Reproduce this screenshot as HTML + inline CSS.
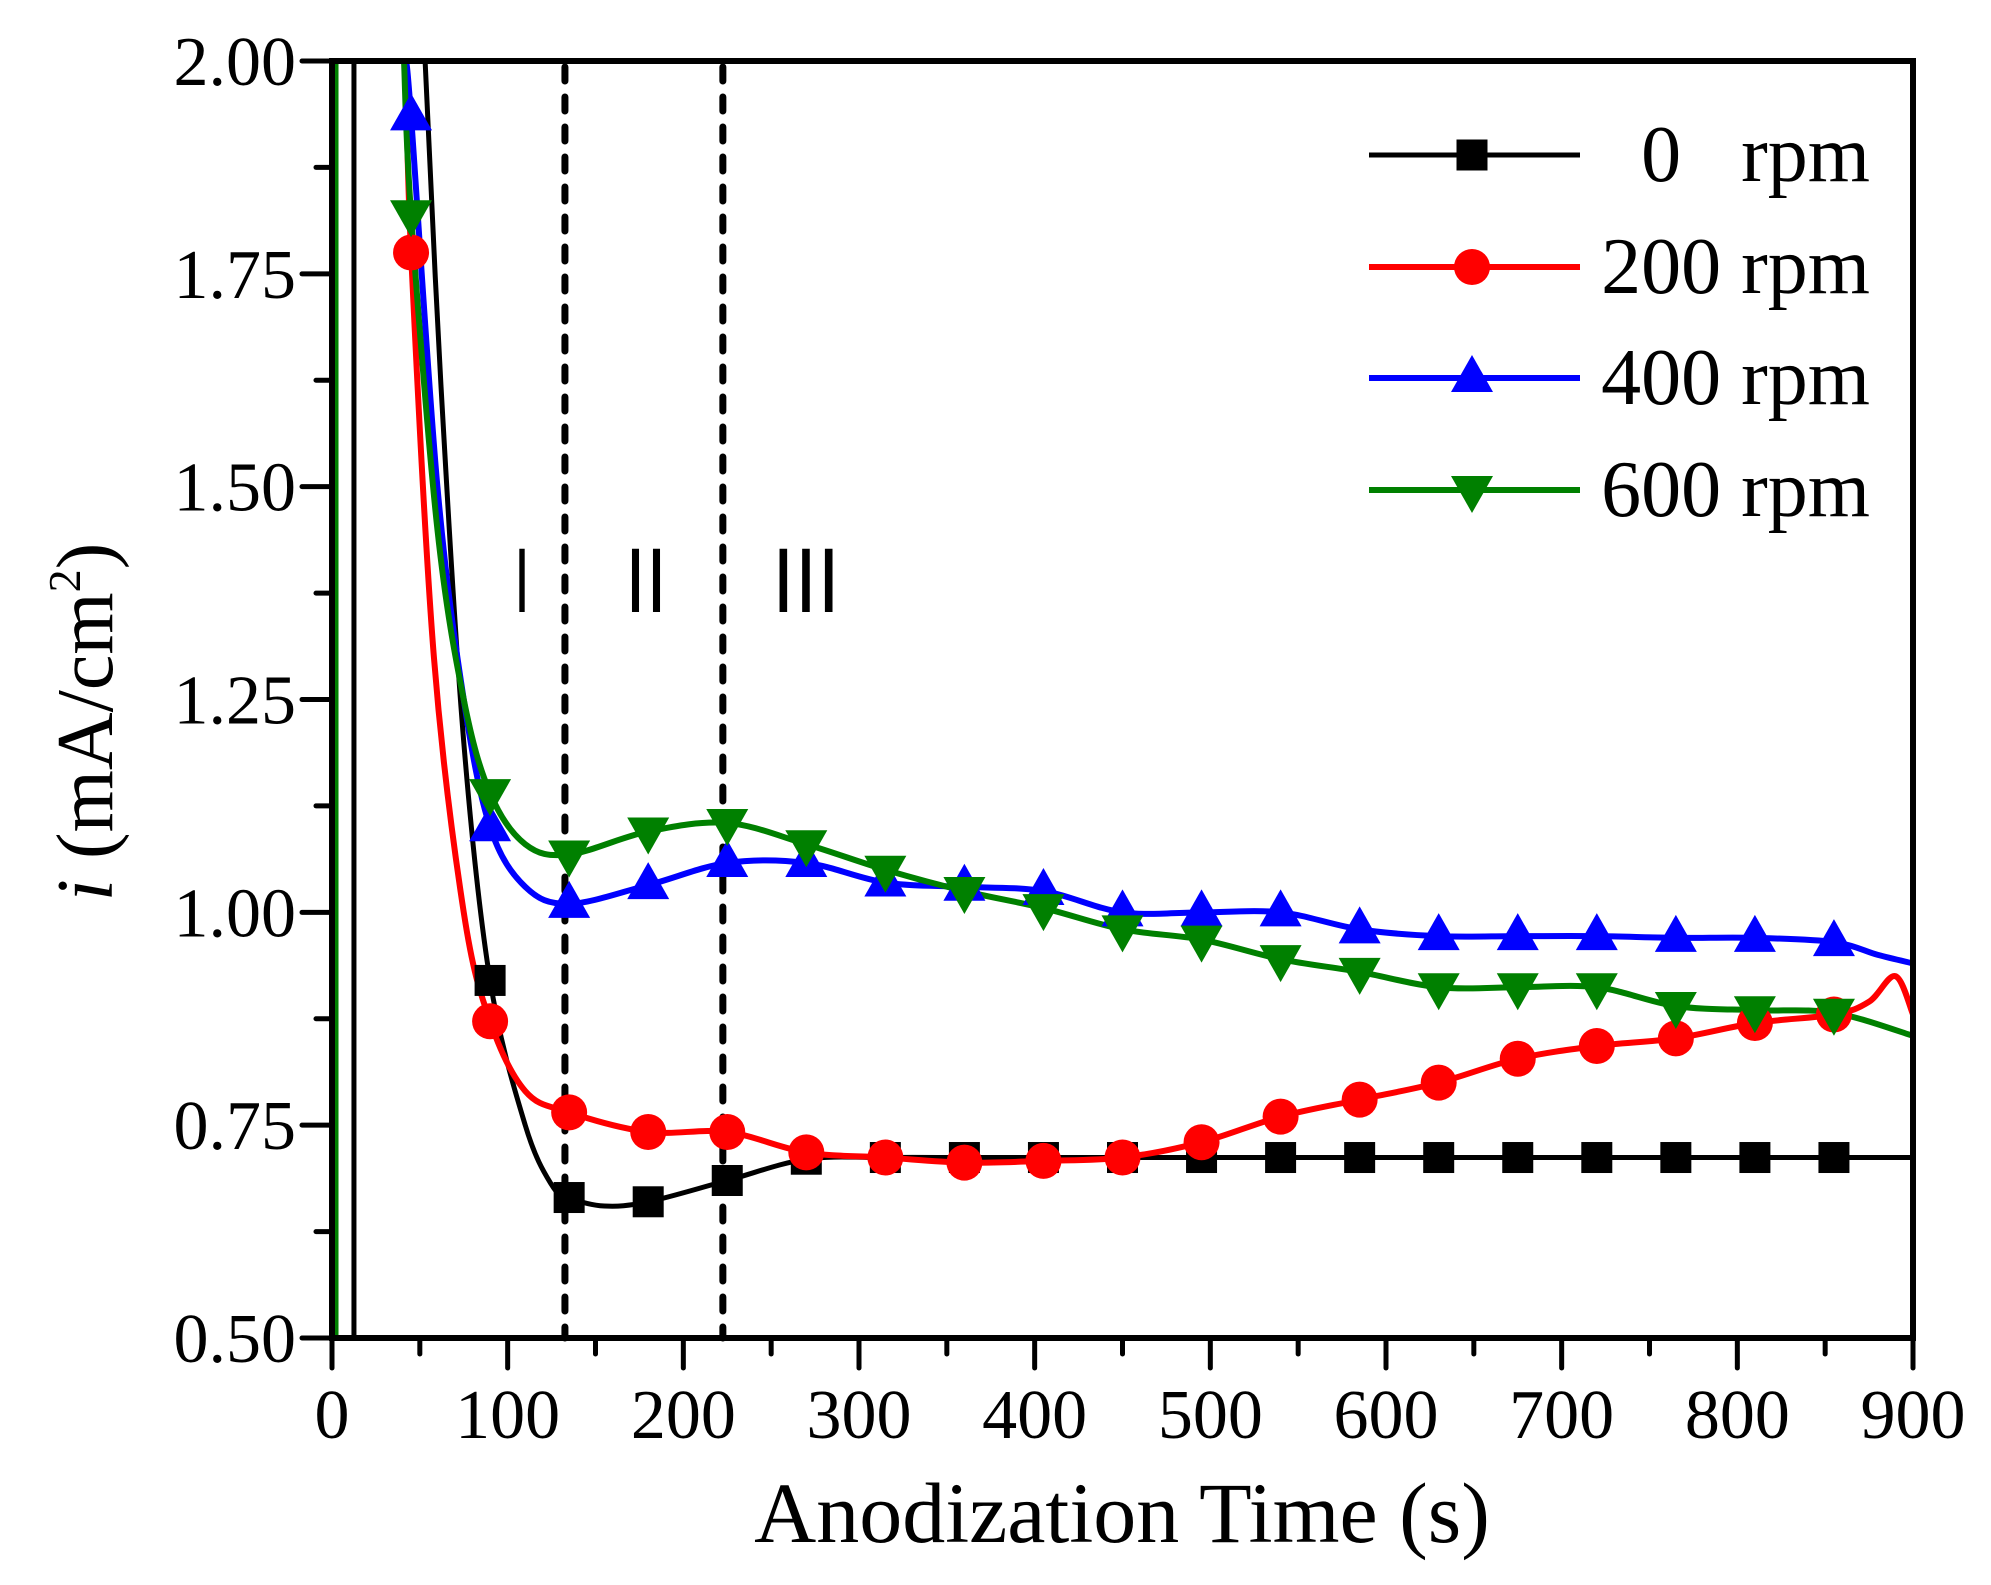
<!DOCTYPE html>
<html><head><meta charset="utf-8"><style>
html,body{margin:0;padding:0;background:#fff;}
svg{display:block;}
text{font-family:"Liberation Serif",serif;fill:#000;}
</style></head><body>
<svg id="s" width="1991" height="1585" xmlns="http://www.w3.org/2000/svg">
<g id="g"></g>
<text x="112" y="722" font-size="80" text-anchor="middle" transform="rotate(-90 112 722)"><tspan font-style="italic">i</tspan> (mA/cm<tspan font-size="46" dy="-32">2</tspan><tspan dy="32">)</tspan></text>
<text x="1122" y="1542" font-size="86" text-anchor="middle">Anodization Time (s)</text>
<text x="522" y="612" font-size="92" text-anchor="middle" textLength="16" lengthAdjust="spacingAndGlyphs" style="font-family:'Liberation Sans',sans-serif">I</text>
<text x="646" y="612" font-size="92" text-anchor="middle" textLength="42" lengthAdjust="spacingAndGlyphs" style="font-family:'Liberation Sans',sans-serif">II</text>
<text x="806" y="612" font-size="92" text-anchor="middle" textLength="68" lengthAdjust="spacingAndGlyphs" style="font-family:'Liberation Sans',sans-serif">III</text>
</svg>
<script>
var L=332,R=1913,T=61,B=1338;
function X(t){return L+t*(R-L)/900;}
function Y(v){return B-(v-0.5)*(B-T)/1.5;}
var g=document.getElementById('g'),h='';
[132.6,222.5].forEach(function(t){h+='<line x1="'+X(t)+'" y1="'+(T+6)+'" x2="'+X(t)+'" y2="'+B+'" stroke="#000" stroke-width="7" stroke-dasharray="14 16" stroke-linecap="round"/>';});
function path(pts){
 var d='M'+X(pts[0][0])+','+Y(pts[0][1]);
 for(var i=0;i<pts.length-1;i++){
  var p0=pts[Math.max(i-1,0)],p1=pts[i],p2=pts[i+1],p3=pts[Math.min(i+2,pts.length-1)];
  var a=[X(p0[0]),Y(p0[1])],b=[X(p1[0]),Y(p1[1])],c=[X(p2[0]),Y(p2[1])],e=[X(p3[0]),Y(p3[1])];
  d+=' C'+(b[0]+(c[0]-a[0])/6)+','+(b[1]+(c[1]-a[1])/6)+' '+(c[0]-(e[0]-b[0])/6)+','+(c[1]-(e[1]-b[1])/6)+' '+c[0]+','+c[1];
 }
 return d;
}
var ts=[90,135,180,225,270,315,360,405,450,495,540,585,630,675,720,765,810,855];
var black=[0.92,0.665,0.66,0.685,0.71,0.712,0.712,0.712,0.712,0.712,0.712,0.712,0.712,0.712,0.712,0.712,0.712,0.712];
var red=[0.872,0.765,0.742,0.742,0.718,0.712,0.706,0.708,0.712,0.73,0.76,0.78,0.80,0.828,0.843,0.852,0.87,0.88];
var blue=[1.10,1.01,1.032,1.058,1.058,1.035,1.03,1.025,1.0,1.0,1.0,0.98,0.972,0.972,0.972,0.97,0.97,0.965];
var green=[1.14,1.068,1.095,1.105,1.08,1.05,1.025,1.005,0.98,0.968,0.945,0.93,0.912,0.912,0.912,0.89,0.885,0.882];
function mk(arr){return ts.map(function(t,i){return [t,arr[i]];});}
var S=[
 {c:'#000',w:5,p:[[53,2.0],[62,1.62],[75,1.2],[90,0.92],[110,0.75],[125,0.68],[135,0.665],[155,0.655]].concat(mk(black).slice(2)).concat([[900,0.712]]),m:'sq',d:black,v:12.5},
 {c:'#f00',w:6,p:[[42,2.0],[45,1.775],[58,1.3],[75,1.0],[90,0.872],[110,0.79]].concat(mk(red).slice(1)).concat([[875,0.895],[890,0.925],[900,0.88]]),m:'ci',d:red,v:null,first:[45,1.775]},
 {c:'#00f',w:6,p:[[42,2.0],[45,1.935],[60,1.5],[75,1.25],[90,1.10],[110,1.03]].concat(mk(blue).slice(1)).concat([[880,0.95],[900,0.94]]),m:'tu',d:blue,v:null,first:[45,1.935]},
 {c:'#008000',w:6,p:[[41,2.0],[45,1.82],[60,1.45],[75,1.25],[90,1.14],[110,1.08]].concat(mk(green).slice(1)).concat([[900,0.855]]),m:'td',d:green,v:2,first:[45,1.82]}
];
function marker(type,x,y,c){
 if(type=='sq')return '<rect x="'+(x-15.5)+'" y="'+(y-15.5)+'" width="31" height="31" fill="'+c+'"/>';
 if(type=='ci')return '<circle cx="'+x+'" cy="'+y+'" r="18" fill="'+c+'"/>';
 if(type=='tu')return '<polygon points="'+(x-21)+','+(y+14)+' '+(x+21)+','+(y+14)+' '+x+','+(y-23)+'" fill="'+c+'"/>';
 return '<polygon points="'+(x-21)+','+(y-14)+' '+(x+21)+','+(y-14)+' '+x+','+(y+23)+'" fill="'+c+'"/>';
}
h+='<defs><clipPath id="cp"><rect x="'+L+'" y="'+T+'" width="'+(R-L)+'" height="'+(B-T)+'"/></clipPath></defs><g clip-path="url(#cp)">';
S.forEach(function(s){
 if(s.v!=null)h+='<line x1="'+X(s.v)+'" y1="'+T+'" x2="'+X(s.v)+'" y2="'+B+'" stroke="'+s.c+'" stroke-width="'+s.w+'"/>';
 h+='<path d="'+path(s.p)+'" fill="none" stroke="'+s.c+'" stroke-width="'+s.w+'"/>';
});
S.forEach(function(s){
 if(s.first)h+=marker(s.m,X(s.first[0]),Y(s.first[1]),s.c);
 ts.forEach(function(t,i){h+=marker(s.m,X(t),Y(s.d[i]),s.c);});
});
h+='</g>';
h+='<rect x="'+L+'" y="'+T+'" width="'+(R-L)+'" height="'+(B-T)+'" fill="none" stroke="#000" stroke-width="6"/>';
for(var t=0;t<=900;t+=50){var x=X(t),len=(t%100==0)?30:16;h+='<line x1="'+x+'" y1="'+B+'" x2="'+x+'" y2="'+(B+len)+'" stroke="#000" stroke-width="5" stroke-linecap="round"/>';
 if(t%100==0)h+='<text x="'+x+'" y="'+(B+100)+'" font-size="70" text-anchor="middle">'+t+'</text>';}
for(var k=0;k<=12;k++){var v=0.5+k*0.125,y=Y(v),len=(k%2==0)?30:16;h+='<line x1="'+L+'" y1="'+y+'" x2="'+(L-len)+'" y2="'+y+'" stroke="#000" stroke-width="5" stroke-linecap="round"/>';
 if(k%2==0)h+='<text x="'+(L-36)+'" y="'+(y+24)+'" font-size="70" text-anchor="end">'+v.toFixed(2)+'</text>';}
var ly=[155,267,378,490],lab=['0\u00A0\u00A0\u00A0rpm','200 rpm','400 rpm','600 rpm'];
S.forEach(function(s,i){h+='<line x1="1369" y1="'+ly[i]+'" x2="1580" y2="'+ly[i]+'" stroke="'+s.c+'" stroke-width="'+s.w+'"/>'+marker(s.m,1472,ly[i],s.c)+'<text x="1870" y="'+(ly[i]+26)+'" font-size="80" text-anchor="end">'+lab[i]+'</text>';});
g.innerHTML=h;
</script>
</body></html>
